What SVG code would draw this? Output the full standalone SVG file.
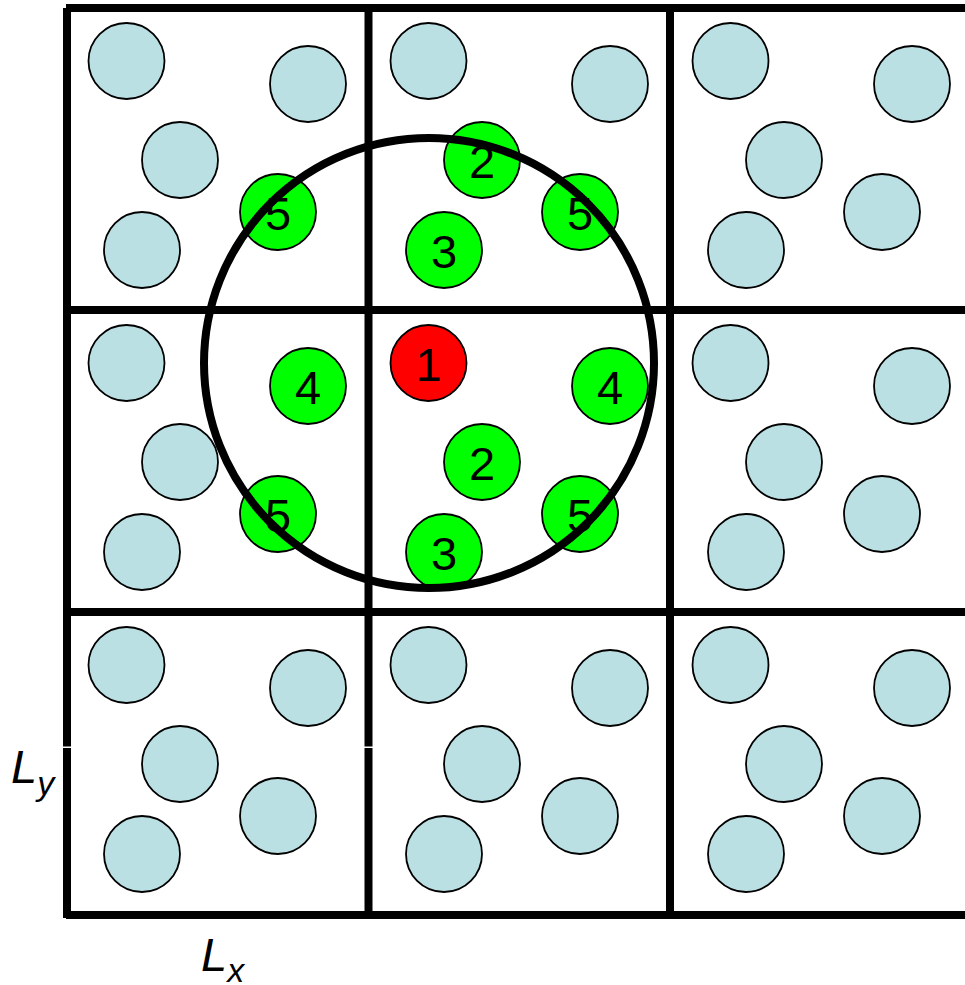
<svg xmlns="http://www.w3.org/2000/svg" width="965" height="985" viewBox="0 0 965 985">
<style>
.grid{stroke:#000;stroke-width:8;fill:none}
.p{stroke:#000;stroke-width:1.8}
.b{fill:#BBE0E3}
.g{fill:#00FF00}
.r{fill:#FF0000}
.n{font-family:"Liberation Sans",Arial,sans-serif;font-size:47px;text-anchor:middle;fill:#000}
.lab{font-family:"Liberation Sans",Arial,sans-serif;font-size:47px;font-style:italic;fill:#000}
</style>
<defs>
<circle id="pc" r="38"/>
</defs>
<rect width="965" height="985" fill="#fff"/>
<g id="particles">
<g id="cell00"><use href="#pc" x="126.5" y="61" class="p b"/><use href="#pc" x="308" y="84" class="p b"/><use href="#pc" x="180" y="160" class="p b"/><use href="#pc" x="142" y="250" class="p b"/></g>
<g id="cell10"><use href="#pc" x="428.5" y="61" class="p b"/><use href="#pc" x="610" y="84" class="p b"/></g>
<g id="cell20"><use href="#pc" x="730.5" y="61" class="p b"/><use href="#pc" x="912" y="84" class="p b"/><use href="#pc" x="784" y="160" class="p b"/><use href="#pc" x="746" y="250" class="p b"/><use href="#pc" x="882" y="212" class="p b"/></g>
<g id="cell01"><use href="#pc" x="126.5" y="363" class="p b"/><use href="#pc" x="180" y="462" class="p b"/><use href="#pc" x="142" y="552" class="p b"/></g>
<g id="cell21"><use href="#pc" x="730.5" y="363" class="p b"/><use href="#pc" x="912" y="386" class="p b"/><use href="#pc" x="784" y="462" class="p b"/><use href="#pc" x="746" y="552" class="p b"/><use href="#pc" x="882" y="514" class="p b"/></g>
<g id="cell02"><use href="#pc" x="126.5" y="665" class="p b"/><use href="#pc" x="308" y="688" class="p b"/><use href="#pc" x="180" y="764" class="p b"/><use href="#pc" x="142" y="854" class="p b"/><use href="#pc" x="278" y="816" class="p b"/></g>
<g id="cell12"><use href="#pc" x="428.5" y="665" class="p b"/><use href="#pc" x="610" y="688" class="p b"/><use href="#pc" x="482" y="764" class="p b"/><use href="#pc" x="444" y="854" class="p b"/><use href="#pc" x="580" y="816" class="p b"/></g>
<g id="cell22"><use href="#pc" x="730.5" y="665" class="p b"/><use href="#pc" x="912" y="688" class="p b"/><use href="#pc" x="784" y="764" class="p b"/><use href="#pc" x="746" y="854" class="p b"/><use href="#pc" x="882" y="816" class="p b"/></g>
</g>
<g id="neighbors">
<g id="n5a"><use href="#pc" x="278" y="212" class="p g"/></g>
<g id="n2a"><use href="#pc" x="482" y="160" class="p g"/></g>
<g id="n3a"><use href="#pc" x="444" y="250" class="p g"/></g>
<g id="n5b"><use href="#pc" x="580" y="212" class="p g"/></g>
<g id="n4a"><use href="#pc" x="308" y="386" class="p g"/></g>
<g id="n5c"><use href="#pc" x="278" y="514" class="p g"/></g>
<g id="n1"><use href="#pc" x="428.5" y="363" class="p r"/></g>
<g id="n4b"><use href="#pc" x="610" y="386" class="p g"/></g>
<g id="n2b"><use href="#pc" x="482" y="462" class="p g"/></g>
<g id="n3b"><use href="#pc" x="444" y="552" class="p g"/></g>
<g id="n5d"><use href="#pc" x="580" y="514" class="p g"/></g>
</g>
<g id="grid">
<line class="grid" x1="66" y1="8" x2="965" y2="8"/>
<line class="grid" x1="66" y1="310" x2="965" y2="310"/>
<line class="grid" x1="66" y1="612" x2="965" y2="612"/>
<line class="grid" x1="66" y1="915" x2="965" y2="915"/>
<line class="grid" x1="67" y1="8" x2="67" y2="918"/>
<line class="grid" x1="368.5" y1="8" x2="368.5" y2="915"/>
<line class="grid" x1="670" y1="8" x2="670" y2="915"/>
<rect x="62" y="746.5" width="10" height="1.5" fill="#fff"/>
<rect x="364" y="746.5" width="10" height="1.5" fill="#fff"/>
</g>
<g id="cutoff">
<circle cx="429" cy="363" r="225" fill="none" stroke="#000" stroke-width="8"/>
</g>
<g id="labels">
<text class="n" x="278" y="229.5">5</text>
<text class="n" x="482" y="177.5">2</text>
<text class="n" x="444" y="267.5">3</text>
<text class="n" x="580" y="229.5">5</text>
<text class="n" x="308" y="403.5">4</text>
<text class="n" x="278" y="531.5">5</text>
<text class="n" x="428.5" y="380.5">1</text>
<text class="n" x="610" y="403.5">4</text>
<text class="n" x="482" y="479.5">2</text>
<text class="n" x="444" y="569.5">3</text>
<text class="n" x="580" y="531.5">5</text>
<text class="lab" x="11" y="783">L<tspan font-size="34" dy="12">y</tspan></text>
<text class="lab" x="201" y="971">L<tspan font-size="34" dy="11">x</tspan></text>
</g>
</svg>
